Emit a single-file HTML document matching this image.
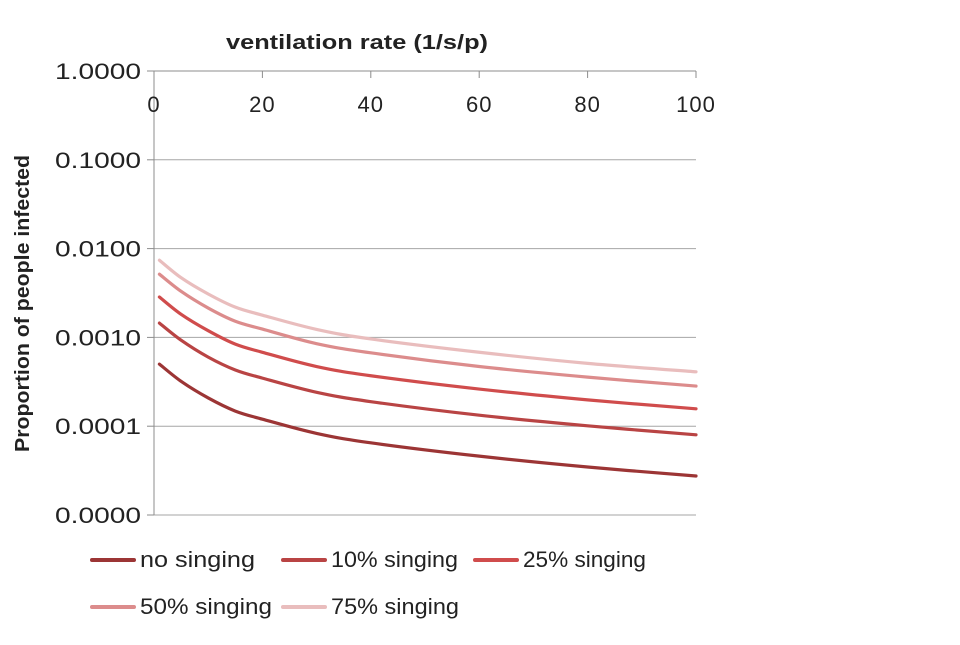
<!DOCTYPE html>
<html><head><meta charset="utf-8"><style>
html,body{margin:0;padding:0;background:#fff;}
svg text{font-family:"Liberation Sans",sans-serif;fill:#222;}
</style></head><body>
<svg width="960" height="640" viewBox="0 0 960 640">
<g id="grid"></g><g id="axes"></g><g id="series"></g><g id="legend"></g>
<text x="226" y="49" textLength="262" lengthAdjust="spacingAndGlyphs" font-size="20" font-weight="bold">ventilation rate (1/s/p)</text>
<text transform="translate(29,452) rotate(-90)" textLength="297" lengthAdjust="spacingAndGlyphs" font-size="20" font-weight="bold">Proportion of people infected</text>
</svg>
<script>
const xValues=[1,5,10,15,20,30,40,60,80,100];
const seriesNames=["no singing","10% singing","25% singing","50% singing","75% singing"];
const noSinging=[5.0e-4,3.2e-4,2.08e-4,1.48e-4,1.2e-4,8.3e-5,6.5e-5,4.6e-5,3.47e-5,2.75e-5];
const singing10=[1.45e-3,9.3e-4,6.0e-4,4.3e-4,3.48e-4,2.41e-4,1.89e-4,1.33e-4,1.01e-4,8.0e-5];
const singing25=[2.85e-3,1.82e-3,1.19e-3,8.4e-4,6.8e-4,4.7e-4,3.7e-4,2.62e-4,1.98e-4,1.57e-4];
const singing50=[5.15e-3,3.3e-3,2.14e-3,1.52e-3,1.24e-3,8.5e-4,6.7e-4,4.7e-4,3.57e-4,2.83e-4];
const singing75=[7.4e-3,4.7e-3,3.08e-3,2.19e-3,1.78e-3,1.23e-3,9.6e-4,6.8e-4,5.1e-4,4.1e-4];
const xTicks=[0,20,40,60,80,100];
const yTicks=[1,0.1,0.01,0.001,0.0001,0.00001];
const yTickLabels=["1.0000","0.1000","0.0100","0.0010","0.0001","0.0000"];
const colors=["#9c3535","#b94444","#d04c4c","#dc8c8c","#e9bdbd"];
const NS="http://www.w3.org/2000/svg";
const X0=154,X1=696,Y0=71,DEC=88.8;
function sx(v){return X0+(X1-X0)*v/100;}
function sy(v){return Y0-Math.log10(v)*DEC;}
function mk(tag,attrs,parent){const e=document.createElementNS(NS,tag);for(const k in attrs)e.setAttribute(k,attrs[k]);parent.appendChild(e);return e;}
const grid=document.getElementById('grid'),axes=document.getElementById('axes'),ser=document.getElementById('series'),leg=document.getElementById('legend');
yTicks.forEach((t,i)=>{
  const y=sy(t);
  if(i>0){const l=mk('line',{x1:X0,x2:X1,y1:y,y2:y,stroke:'#a6a6a6','stroke-width':1},grid);
  
  }
  const tk=mk('line',{x1:X0-7,x2:X0,y1:y,y2:y,stroke:'#8c8c8c','stroke-width':1},axes);
  
  
  const tx=mk('text',{x:55,y:y+8,'font-size':22,textLength:86,lengthAdjust:'spacingAndGlyphs'},axes);
  tx.textContent=yTickLabels[i];
  
  
});
const xa=mk('line',{x1:X0,x2:X1,y1:Y0,y2:Y0,stroke:'#8c8c8c','stroke-width':1},axes);


const ya=mk('line',{x1:X0,x2:X0,y1:Y0,y2:sy(0.00001),stroke:'#8c8c8c','stroke-width':1},axes);


xTicks.forEach(t=>{
  const x=sx(t);
  const tk=mk('line',{x1:x,x2:x,y1:Y0,y2:Y0+7,stroke:'#8c8c8c','stroke-width':1},axes);
  
  
  const tx=mk('text',{x:x,y:112,'text-anchor':'middle','font-size':22,'letter-spacing':1},axes);
  tx.textContent=String(t);
  
  
});
function pathFor(vals){
  const p=xValues.map((x,i)=>[sx(x),sy(vals[i])]);
  let d='M'+p[0][0]+','+p[0][1];
  for(let i=0;i<p.length-1;i++){
    const a=p[Math.max(0,i-1)],b=p[i],c=p[i+1],e=p[Math.min(p.length-1,i+2)];
    const c1=[b[0]+(c[0]-a[0])/6,b[1]+(c[1]-a[1])/6],c2=[c[0]-(e[0]-b[0])/6,c[1]-(e[1]-b[1])/6];
    d+=' C'+c1+' '+c2+' '+c;
  }
  return d;
}
const all=[noSinging,singing10,singing25,singing50,singing75];
for(let i=all.length-1;i>=0;i--){
  const p=mk('path',{d:pathFor(all[i]),fill:'none',stroke:colors[i],'stroke-width':3.2,'stroke-linecap':'round','stroke-linejoin':'round'},ser);
  
  
}
const legPos=[[92,560],[283,560],[475,560],[92,607],[283,607]];
const legW=[115,127,123,132,128];
seriesNames.forEach((n,i)=>{
  const [x,y]=legPos[i];
  const g=mk('g',{},leg);
  
  
  mk('line',{x1:x,x2:x+42,y1:y,y2:y,stroke:colors[i],'stroke-width':4,'stroke-linecap':'round'},g);
  const t=mk('text',{x:x+48,y:y+7,'font-size':22,textLength:legW[i],lengthAdjust:'spacingAndGlyphs'},g);
  t.textContent=n;
});
</script>
</body></html>
